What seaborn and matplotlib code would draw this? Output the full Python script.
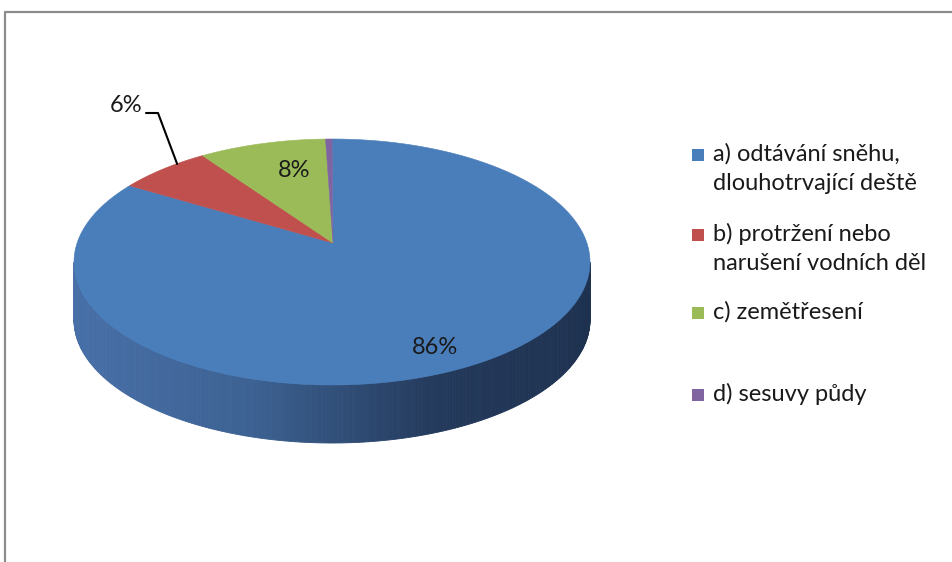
import numpy as np
import matplotlib
matplotlib.use("Agg")
import matplotlib.pyplot as plt
from matplotlib.patches import Polygon, Rectangle
from matplotlib.lines import Line2D
import seaborn as sns

# Příčiny povodní – podíl odpovědí
categories = [
    "a) odtávání sněhu,\ndlouhotrvající deště",
    "b) protržení nebo\nnarušení vodních děl",
    "c) zemětřesení",
    "d) sesuvy půdy",
]
values = [86.0, 6.0, 8.0, 0.4]
colors = ["#4A7EBB", "#C0504D", "#9BBB59", "#8064A2"]

sns.set_theme(style="white")
plt.rcParams["font.family"] = ["Lato", "DejaVu Sans"]

W, H = 952, 562
fig = plt.figure(figsize=(W / 100, H / 100), dpi=100)
ax = fig.add_axes([0, 0, 1, 1])
ax.set_xlim(0, W)
ax.set_ylim(H, 0)
ax.axis("off")

# chart frame
ax.add_line(Line2D([5, 5, W], [H, 12, 12], color="#8c8c8c", lw=1.6))

# 3D pie geometry (screen pixels)
cx, cy = 332.0, 262.0       # centre of the top ellipse
rx, ry = 258.0, 123.0       # semi-axes of the top ellipse
apex = (333.0, 243.0)       # perspective-shifted pie centre
depth = 58.0                # thickness of the pie

def rim(theta_deg):
    t = np.radians(theta_deg)
    return cx + rx * np.cos(t), cy - ry * np.sin(t)

total = sum(values)
fractions = [v / total for v in values]

# side wall (front half) with a horizontal shading gradient
stops_x = [cx - rx, cx - 0.3 * rx, cx + 0.4 * rx, cx + rx]
stops_c = [np.array(matplotlib.colors.to_rgb(c)) for c in
           ["#4870A8", "#3C6192", "#243A5C", "#1E3250"]]

def side_color(x):
    return [np.interp(x, stops_x, [c[i] for c in stops_c]) for i in range(3)]

ts = np.linspace(180, 360, 241)
for t0, t1 in zip(ts[:-1], ts[1:]):
    x0, y0 = rim(t0)
    x1, y1 = rim(t1)
    c = side_color((x0 + x1) / 2)
    ax.add_patch(Polygon([(x0, y0), (x1, y1), (x1, y1 + depth), (x0, y0 + depth)],
                         closed=True, facecolor=c, edgecolor=c, lw=0.6))

# top surface: slices go clockwise from 12 o'clock
start = 90.0
mids = []
for frac, col in zip(fractions, colors):
    end = start - frac * 360.0
    arc = np.linspace(start, end, max(int(abs(end - start) * 2) + 2, 3))
    pts = [apex] + [rim(a) for a in arc]
    ax.add_patch(Polygon(pts, closed=True, facecolor=col, edgecolor=col, lw=0.4))
    mids.append((start + end) / 2)
    start = end

# data labels
pct = [round(f * 100) for f in fractions]
label_r = 0.77
txt_kw = dict(fontsize=17, color="#1a1a1a")
for i in (0, 2):
    t = np.radians(mids[i])
    lx = cx + label_r * rx * np.cos(t) + 16
    ly = cy - label_r * ry * np.sin(t)
    ax.text(lx, ly, f"{pct[i]}%", ha="center", va="center", **txt_kw)

# outside label with leader line for the small red slice
ex, ey = rim(mids[1])
ax.add_line(Line2D([ex + 14, 158, 146], [ey - 5, 113, 113], color="black", lw=1.5))
ax.text(142, 106, f"{pct[1]}%", ha="right", va="center", **txt_kw)

# legend
leg_rows = [155, 235, 313, 395]
line_gap = 29
for lab, col, yc in zip(categories, colors, leg_rows):
    ax.add_patch(Rectangle((692, yc - 6.5), 12, 12, facecolor=col, edgecolor="none"))
    for k, line in enumerate(lab.split("\n")):
        ax.text(713, yc + 6 + k * line_gap, line, ha="left", va="baseline", **txt_kw)

fig.savefig("out.png", dpi=100)
